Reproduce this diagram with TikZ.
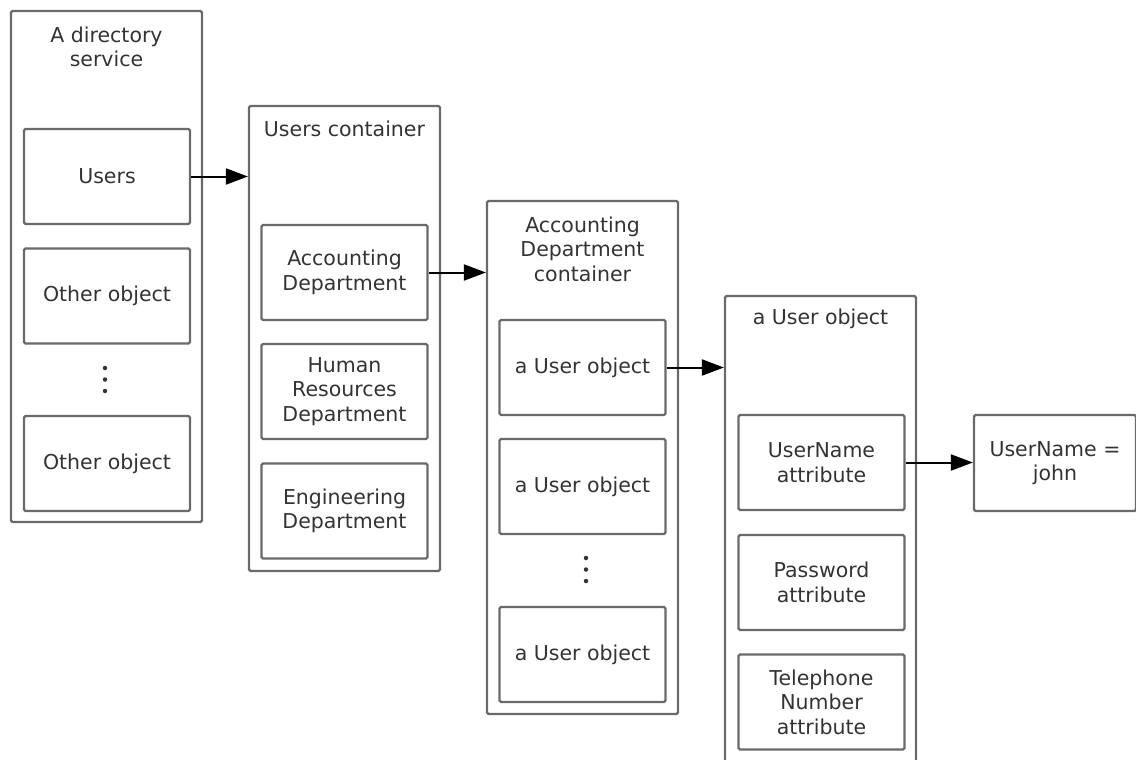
\documentclass[tikz,border=0pt]{standalone}
\usepackage{fontspec}
\setmainfont{DejaVu Sans}
\usetikzlibrary{arrows.meta}
\definecolor{boxline}{HTML}{6A6A6A}
\definecolor{txt}{HTML}{333333}
\begin{document}
\begin{tikzpicture}[x=1pt,y=-1pt,
  every node/.style={font=\fontsize{20.5}{24.5}\selectfont, text=txt, align=center, inner sep=0pt},
  outer/.style={draw=boxline, line width=2.2pt, rounded corners=1.5pt, minimum width=191pt},
  inner/.style={draw=boxline, line width=2.2pt, rounded corners=1.5pt, minimum width=166pt, minimum height=95pt},
  conn/.style={black, line width=2pt, -{Triangle[length=22pt,width=16pt]}},
  vdot/.style={circle, fill=txt, minimum size=4.5pt}
]
\useasboundingbox (0,0) rectangle (1136,760);
% Box 1
\node[outer, minimum height=511pt] (dir) at (106.5,266.5) {};
\node (dirt) at (106.5,47) {A directory\\service};
\node[inner] (users) at (107,176.5) {Users};
\node[inner] (oth1) at (107,296) {Other object};
\node[vdot] (d1a) at (105,368) {};
\node[vdot] (d1b) at (105,379.5) {};
\node[vdot] (d1c) at (105,391) {};
\node[inner] (oth2) at (107,463.5) {Other object};
% Box 2
\node[outer, minimum height=465pt] (uc) at (344.5,338.5) {};
\node (uct) at (344.5,129) {Users container};
\node[inner] (acc) at (344.5,272.5) {Accounting\\Department};
\node[inner] (hr) at (344.5,391.5) {Human\\Resources\\Department};
\node[inner] (eng) at (344.5,511) {Engineering\\Department};
% Box 3
\node[outer, minimum height=513pt] (adc) at (582.5,457.5) {};
\node (adct) at (582.5,249) {Accounting\\Department\\container};
\node[inner] (u1) at (582.5,367.5) {a User object};
\node[inner] (u2) at (582.5,486.5) {a User object};
\node[vdot] (d3a) at (586,558) {};
\node[vdot] (d3b) at (586,569.5) {};
\node[vdot] (d3c) at (586,581) {};
\node[inner] (u3) at (582.5,654.5) {a User object};
% Box 4
\node[outer, minimum height=480pt] (uo) at (820.5,536) {};
\node (uot) at (820.5,319) {a User object};
\node[inner] (una) at (821.5,462.5) {UserName\\attribute};
\node[inner] (pwa) at (821.5,582.5) {Password\\attribute};
\node[inner] (tel) at (821.5,702) {Telephone\\Number\\attribute};
% Box 5
\node[draw=boxline, line width=2.2pt, rounded corners=1.5pt, minimum width=162pt, minimum height=96pt] (val) at (1055,463) {UserName =\\john};
% connectors
\draw[conn] (users.east) -- (users.east -| uc.west);
\draw[conn] (acc.east) -- (acc.east -| adc.west);
\draw[conn] (u1.east) -- (u1.east -| uo.west);
\draw[conn] (una.east) -- (una.east -| val.west);
\end{tikzpicture}
\end{document}
